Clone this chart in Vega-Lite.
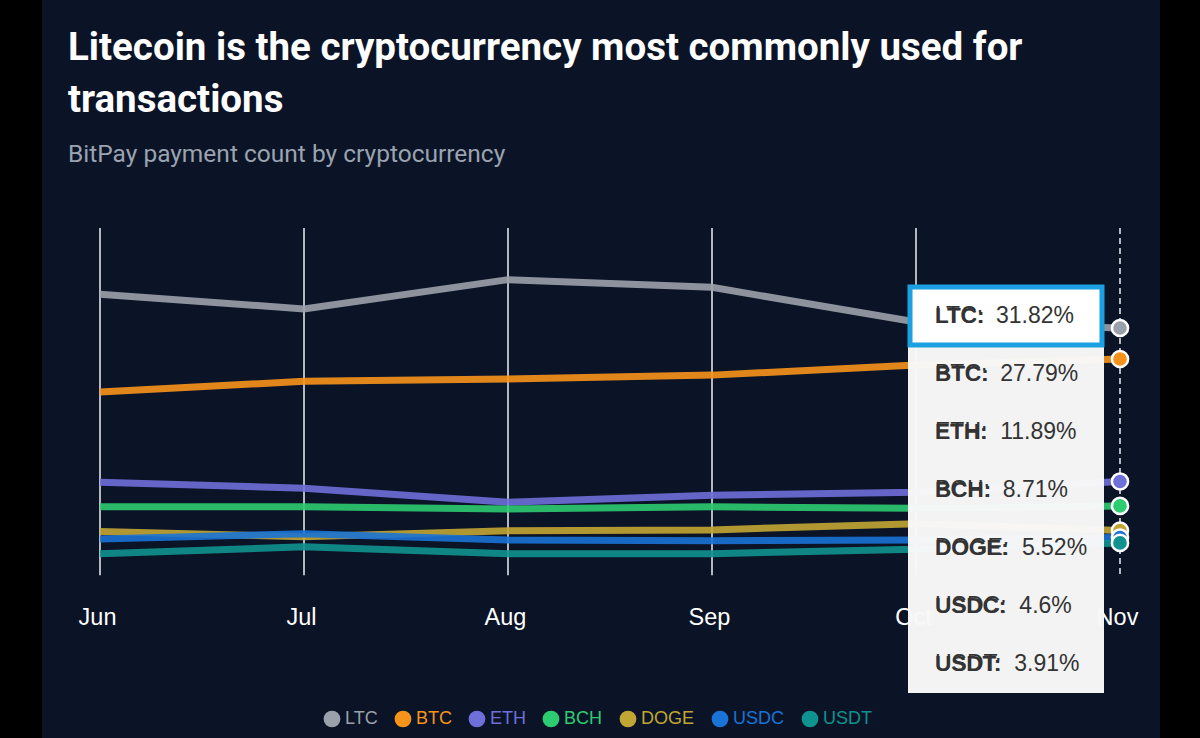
{
  "$schema": "https://vega.github.io/schema/vega-lite/v6.json",
  "description": "BitPay payment count share by cryptocurrency, Jun to Nov.",
  "width": 1118,
  "height": 738,
  "autosize": {"type": "none"},
  "padding": {"left": 42, "right": 40, "top": 0, "bottom": 0},
  "background": "#000000",
  "title": {
    "text": ["Litecoin is the cryptocurrency most commonly used for", "transactions"],
    "subtitle": "BitPay payment count by cryptocurrency",
    "anchor": "start",
    "frame": "group",
    "dx": 26,
    "dy": 171
  },
  "data": {
    "values": [
      {"month": "Jun", "crypto": "LTC", "pct": 36.2},
      {"month": "Jul", "crypto": "LTC", "pct": 34.3},
      {"month": "Aug", "crypto": "LTC", "pct": 38.1},
      {"month": "Sep", "crypto": "LTC", "pct": 37.1},
      {"month": "Oct", "crypto": "LTC", "pct": 32.6},
      {"month": "Nov", "crypto": "LTC", "pct": 31.82},
      {"month": "Jun", "crypto": "BTC", "pct": 23.5},
      {"month": "Jul", "crypto": "BTC", "pct": 24.9},
      {"month": "Aug", "crypto": "BTC", "pct": 25.2},
      {"month": "Sep", "crypto": "BTC", "pct": 25.7},
      {"month": "Oct", "crypto": "BTC", "pct": 27.0},
      {"month": "Nov", "crypto": "BTC", "pct": 27.79},
      {"month": "Jun", "crypto": "ETH", "pct": 11.8},
      {"month": "Jul", "crypto": "ETH", "pct": 11.0},
      {"month": "Aug", "crypto": "ETH", "pct": 9.2},
      {"month": "Sep", "crypto": "ETH", "pct": 10.1},
      {"month": "Oct", "crypto": "ETH", "pct": 10.5},
      {"month": "Nov", "crypto": "ETH", "pct": 11.89},
      {"month": "Jun", "crypto": "BCH", "pct": 8.6},
      {"month": "Jul", "crypto": "BCH", "pct": 8.6},
      {"month": "Aug", "crypto": "BCH", "pct": 8.3},
      {"month": "Sep", "crypto": "BCH", "pct": 8.6},
      {"month": "Oct", "crypto": "BCH", "pct": 8.4},
      {"month": "Nov", "crypto": "BCH", "pct": 8.71},
      {"month": "Jun", "crypto": "DOGE", "pct": 5.4},
      {"month": "Jul", "crypto": "DOGE", "pct": 4.7},
      {"month": "Aug", "crypto": "DOGE", "pct": 5.5},
      {"month": "Sep", "crypto": "DOGE", "pct": 5.6},
      {"month": "Oct", "crypto": "DOGE", "pct": 6.4},
      {"month": "Nov", "crypto": "DOGE", "pct": 5.52},
      {"month": "Jun", "crypto": "USDC", "pct": 4.4},
      {"month": "Jul", "crypto": "USDC", "pct": 5.1},
      {"month": "Aug", "crypto": "USDC", "pct": 4.3},
      {"month": "Sep", "crypto": "USDC", "pct": 4.2},
      {"month": "Oct", "crypto": "USDC", "pct": 4.3},
      {"month": "Nov", "crypto": "USDC", "pct": 4.6},
      {"month": "Jun", "crypto": "USDT", "pct": 2.5},
      {"month": "Jul", "crypto": "USDT", "pct": 3.4},
      {"month": "Aug", "crypto": "USDT", "pct": 2.5},
      {"month": "Sep", "crypto": "USDT", "pct": 2.5},
      {"month": "Oct", "crypto": "USDT", "pct": 3.1},
      {"month": "Nov", "crypto": "USDT", "pct": 3.91}
    ]
  },
  "resolve": {"scale": {"y": "independent"}},
  "layer": [
    {
      "transform": [{"filter": "datum.crypto === 'LTC'"}],
      "mark": {"type": "rule", "color": "#eceef2", "strokeWidth": 1.5},
      "encoding": {
        "x": {
          "field": "month",
          "type": "ordinal",
          "scale": {
            "type": "point",
            "domain": ["Jun", "Jul", "Aug", "Sep", "Oct", "Nov"],
            "range": [58, 1078],
            "padding": 0
          },
          "axis": {
            "title": null,
            "orient": "bottom",
            "offset": -163,
            "domain": false,
            "ticks": false,
            "grid": false,
            "labelAngle": 0,
            "labelFont": "Liberation Sans",
            "labelFontSize": 23.5,
            "labelColor": "#ffffff",
            "labelPadding": 30,
            "labelOffset": -3
          }
        },
        "y": {
          "datum": 44.8,
          "type": "quantitative",
          "scale": {"domain": [-21.43, 74.42], "nice": false, "zero": false},
          "axis": null
        },
        "y2": {"datum": -0.3},
        "strokeDash": {
          "condition": {"test": "datum.month === 'Nov'", "value": [6, 4]},
          "value": [1, 0]
        }
      }
    },
    {
      "mark": {"type": "line", "strokeWidth": 7, "strokeOpacity": 0.9, "strokeCap": "butt"},
      "encoding": {
        "x": {"field": "month", "type": "ordinal"},
        "y": {
          "field": "pct",
          "type": "quantitative",
          "scale": {"domain": [-21.43, 74.42], "nice": false, "zero": false},
          "axis": null
        },
        "stroke": {
          "field": "crypto",
          "type": "nominal",
          "scale": {
            "domain": ["BCH", "BTC", "DOGE", "ETH", "LTC", "USDC", "USDT"],
            "range": ["#2ecc71", "#f7931a", "#c2a633", "#6e6fd8", "#9ba1aa", "#1a73d6", "#10938f"]
          },
          "legend": null
        }
      }
    },
    {
      "transform": [{"filter": "datum.month === 'Nov'"}],
      "mark": {"type": "circle", "size": 260, "opacity": 1, "stroke": "#ffffff", "strokeWidth": 2.5},
      "encoding": {
        "x": {"field": "month", "type": "ordinal"},
        "y": {
          "field": "pct",
          "type": "quantitative",
          "scale": {"domain": [-21.43, 74.42], "nice": false, "zero": false},
          "axis": null
        },
        "fill": {
          "field": "crypto",
          "type": "nominal",
          "scale": {
            "domain": ["LTC", "BTC", "ETH", "BCH", "DOGE", "USDC", "USDT"],
            "range": ["#9ba1aa", "#f7931a", "#6e6fd8", "#2ecc71", "#c2a633", "#1a73d6", "#10938f"]
          },
          "legend": {
            "title": null,
            "orient": "none",
            "legendX": 281,
            "legendY": 710,
            "direction": "horizontal",
            "columns": 7,
            "padding": 0,
            "symbolType": "circle",
            "symbolSize": 280,
            "symbolStrokeWidth": 0,
            "labelFont": "Liberation Sans",
            "labelFontSize": 18,
            "labelOffset": 4,
            "columnPadding": 16,
            "labelColor": {"expr": "scale('fill', datum.value)"}
          }
        }
      }
    },
    {
      "transform": [{"filter": "datum.month === 'Nov'"}],
      "mark": {"type": "rect", "fill": "#f8f8f8", "fillOpacity": 0.98, "xOffset": -8, "x2Offset": -16},
      "encoding": {
        "x": {"datum": "Oct", "type": "ordinal"},
        "x2": {"datum": "Nov"},
        "y": {
          "field": "crypto",
          "type": "nominal",
          "scale": {
            "type": "band",
            "domain": ["LTC", "BTC", "ETH", "BCH", "DOGE", "USDC", "USDT"],
            "range": [287, 693],
            "padding": 0
          },
          "axis": null
        }
      }
    },
    {
      "transform": [{"filter": "datum.month === 'Nov' && datum.crypto === 'LTC'"}],
      "mark": {"type": "rect", "fill": "#ffffff", "fillOpacity": 0.98, "stroke": "#1ba1e2", "strokeWidth": 5, "xOffset": -6, "x2Offset": -18},
      "encoding": {
        "x": {"datum": "Oct", "type": "ordinal"},
        "x2": {"datum": "Nov"},
        "y": {
          "field": "crypto",
          "type": "nominal",
          "scale": {
            "type": "band",
            "domain": ["LTC", "BTC", "ETH", "BCH", "DOGE", "USDC", "USDT"],
            "range": [287, 693],
            "padding": 0
          },
          "axis": null
        }
      }
    },
    {
      "transform": [
        {"filter": "datum.month === 'Nov'"},
        {"calculate": "datum.crypto + ':\u00a0\u00a0' + datum.pct + '%'", "as": "row"}
      ],
      "mark": {"type": "text", "align": "left", "baseline": "middle", "dx": 19, "font": "Liberation Sans", "fontSize": 23, "color": "#333333"},
      "encoding": {
        "x": {"datum": "Oct", "type": "ordinal"},
        "y": {
          "field": "crypto",
          "type": "nominal",
          "scale": {
            "type": "band",
            "domain": ["LTC", "BTC", "ETH", "BCH", "DOGE", "USDC", "USDT"],
            "range": [287, 693],
            "padding": 0
          },
          "axis": null
        },
        "text": {"field": "row"}
      }
    },
    {
      "transform": [
        {"filter": "datum.month === 'Nov'"},
        {"calculate": "datum.crypto + ':'", "as": "lab"}
      ],
      "mark": {"type": "text", "align": "left", "baseline": "middle", "dx": 19, "font": "Liberation Sans", "fontSize": 22.5, "fontWeight": "bold", "color": "#333333"},
      "encoding": {
        "x": {"datum": "Oct", "type": "ordinal"},
        "y": {
          "field": "crypto",
          "type": "nominal",
          "scale": {
            "type": "band",
            "domain": ["LTC", "BTC", "ETH", "BCH", "DOGE", "USDC", "USDT"],
            "range": [287, 693],
            "padding": 0
          },
          "axis": null
        },
        "text": {"field": "lab"}
      }
    }
  ],
  "config": {
    "view": {"stroke": null, "fill": "#0b1327"},
    "title": {
      "font": "Roboto",
      "fontSize": 38.5,
      "fontWeight": "bold",
      "color": "#ffffff",
      "lineHeight": 52,
      "offset": 0,
      "subtitleFont": "Roboto",
      "subtitleFontSize": 24.5,
      "subtitleColor": "#9aa3b0",
      "subtitlePadding": 22
    }
  }
}
